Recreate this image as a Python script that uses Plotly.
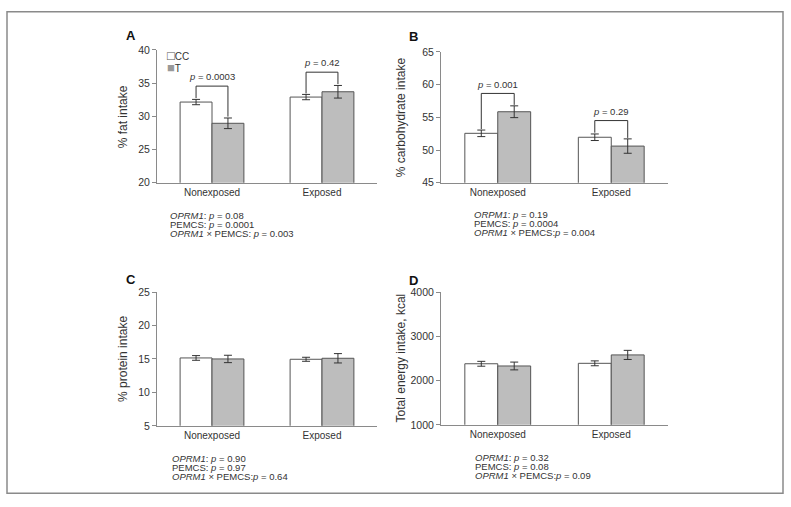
import plotly.graph_objects as go

# categories
groups = ["Nonexposed", "Exposed"]

# A: % fat intake
fat_cc = [32.15, 32.9]
fat_cc_err = [0.4, 0.4]
fat_t = [28.95, 33.7]
fat_t_err = [0.8, 0.95]

# B: % carbohydrate intake
carb_cc = [52.55, 51.95]
carb_cc_err = [0.5, 0.5]
carb_t = [55.85, 50.6]
carb_t_err = [0.9, 1.1]

# C: % protein intake
prot_cc = [15.15, 14.95]
prot_cc_err = [0.35, 0.3]
prot_t = [15.0, 15.1]
prot_t_err = [0.55, 0.7]

# D: total energy intake, kcal
kcal_cc = [2380, 2390]
kcal_cc_err = [55, 55]
kcal_t = [2330, 2580]
kcal_t_err = [88, 103]

# p value brackets (A and B): [bracket level, left arm end, right arm end]
fat_brackets = [[34.55, 32.75, 29.95], [36.65, 33.45, 34.85]]
fat_pvals = ["0.0003", "0.42"]
carb_brackets = [[58.65, 53.2, 56.9], [54.5, 52.65, 51.85]]
carb_pvals = ["0.001", "0.29"]

# stats text under each panel
stats_a = ["<i>OPRM1</i>: <i>p</i> = 0.08", "PEMCS: <i>p</i> = 0.0001", "<i>OPRM1</i> × PEMCS: <i>p</i> = 0.003"]
stats_b = ["<i>ORPM1</i>: <i>p</i> = 0.19", "PEMCS: <i>p</i> = 0.0004", "<i>OPRM1</i> × PEMCS:<i>p</i> = 0.004"]
stats_c = ["<i>OPRM1</i>: <i>p</i> = 0.90", "PEMCS: <i>p</i> = 0.97", "<i>OPRM1</i> × PEMCS:<i>p</i> = 0.64"]
stats_d = ["<i>OPRM1</i>: <i>p</i> = 0.32", "PEMCS: <i>p</i> = 0.08", "<i>OPRM1</i> × PEMCS:<i>p</i> = 0.09"]

FONT = "Liberation Sans, Arial, sans-serif"
TXT = "#333333"
AX = "#8a8a8a"
W, H = 791, 507

panels = [
    # cc, cc_err, t, t_err, ytitle, yrange, dtick, xdom(px), ydom(px), letter pos, stats, stats pos, ytitle x
    (fat_cc, fat_cc_err, fat_t, fat_t_err, "% fat intake", [20, 40], 5, (157, 377), (45, 181), (131, 30), stats_a, (168, 215), 123),
    (carb_cc, carb_cc_err, carb_t, carb_t_err, "% carbohydrate intake", [45, 65], 5, (441, 668), (47, 181), (413, 31), stats_b, (472, 214), 401),
    (prot_cc, prot_cc_err, prot_t, prot_t_err, "% protein intake", [5, 25], 5, (157, 377), (293, 430), (131, 280), stats_c, (170, 463), 123),
    (kcal_cc, kcal_cc_err, kcal_t, kcal_t_err, "Total energy intake, kcal", [1000, 4000], 1000, (441, 668), (293, 429), (413, 281), stats_d, (473, 462), 401),
]
letters = ["A", "B", "C", "D"]

fig = go.Figure()
layout = {}
annotations = []
shapes = []


def paper_note(text, px, py, size, color=TXT, xanchor="center", angle=0):
    return dict(text=text, x=px / W, y=1 - py / H, xref="paper", yref="paper",
                xanchor=xanchor, yanchor="middle", textangle=angle, showarrow=False,
                font=dict(size=size, color=color, family=FONT))


for i, (cc, cce, t, te, ytitle, yr, dt, xd, yd, lpos, stats, spos, ytx) in enumerate(panels):
    n = "" if i == 0 else str(i + 1)
    fig.add_trace(go.Bar(x=groups, y=cc, name="CC", offsetgroup="cc",
                         marker=dict(color="white", line=dict(color="#555555", width=1)),
                         error_y=dict(type="data", array=cce, color="#333333", thickness=1, width=4),
                         xaxis="x" + n, yaxis="y" + n, showlegend=False))
    fig.add_trace(go.Bar(x=groups, y=t, name="T", offsetgroup="t",
                         marker=dict(color="#bdbdbd", line=dict(color="#555555", width=1)),
                         error_y=dict(type="data", array=te, color="#333333", thickness=1, width=4),
                         xaxis="x" + n, yaxis="y" + n, showlegend=False))
    layout["xaxis" + n] = dict(domain=[xd[0] / W, xd[1] / W], anchor="y" + n,
                               showline=True, linecolor=AX, linewidth=1, ticks="",
                               showgrid=False, tickfont=dict(size=10, color=TXT, family=FONT),
                               range=[-0.5, 1.5], fixedrange=True)
    layout["yaxis" + n] = dict(domain=[1 - yd[1] / H, 1 - yd[0] / H], anchor="x" + n,
                               range=yr, dtick=dt, showline=True, linecolor=AX, linewidth=1,
                               ticks="outside", ticklen=4, tickcolor=AX, showgrid=False,
                               zeroline=False, tickfont=dict(size=10.5, color=TXT, family=FONT))
    annotations.append(paper_note(ytitle, ytx, (yd[0] + yd[1]) / 2, 12, angle=-90))
    annotations.append(paper_note("<b>" + letters[i] + "</b>", lpos[0], lpos[1], 13, color="#111111"))
    for k, line in enumerate(stats):
        annotations.append(paper_note(line, spos[0], spos[1] + 9.2 * k, 9.5, xanchor="left"))

# brackets with p values
off = 0.145
for n, brackets, pv, yr in [("", fat_brackets, fat_pvals, [20, 40]), ("2", carb_brackets, carb_pvals, [45, 65])]:
    for g, (top, lbot, rbot) in enumerate(brackets):
        path = "M {} {} L {} {} L {} {} L {} {}".format(g - off, lbot, g - off, top, g + off, top, g + off, rbot)
        shapes.append(dict(type="path", path=path, xref="x" + n, yref="y" + n,
                           line=dict(color="#333333", width=1)))
        annotations.append(dict(text="<i>p</i> = " + pv[g], x=g, y=top + (yr[1] - yr[0]) * 0.072,
                                xref="x" + n, yref="y" + n, xanchor="center", yanchor="middle",
                                showarrow=False, font=dict(size=9.5, color=TXT, family=FONT)))

# legend (panel A)
annotations.append(paper_note("<span style='color:#555;font-size:13px'>□</span>CC", 165, 51, 10, xanchor="left"))
annotations.append(paper_note("<span style='color:#999;font-size:13px'>■</span>T", 165, 62.5, 10, xanchor="left"))

# outer frame
shapes.append(dict(type="rect", xref="paper", yref="paper", x0=7 / W, x1=783 / W,
                   y0=1 - 499 / H, y1=1 - 6 / H, line=dict(color="#8a8a8a", width=1.5)))

fig.update_layout(**layout)
fig.update_layout(width=W, height=H, margin=dict(l=0, r=0, t=0, b=0),
                  paper_bgcolor="white", plot_bgcolor="white",
                  barmode="group", bargap=0.42, bargroupgap=0,
                  font=dict(family=FONT, color=TXT),
                  annotations=annotations, shapes=shapes)

fig.write_html("out.html", config={"displayModeBar": False},
               post_script="document.body.style.margin='0';")
